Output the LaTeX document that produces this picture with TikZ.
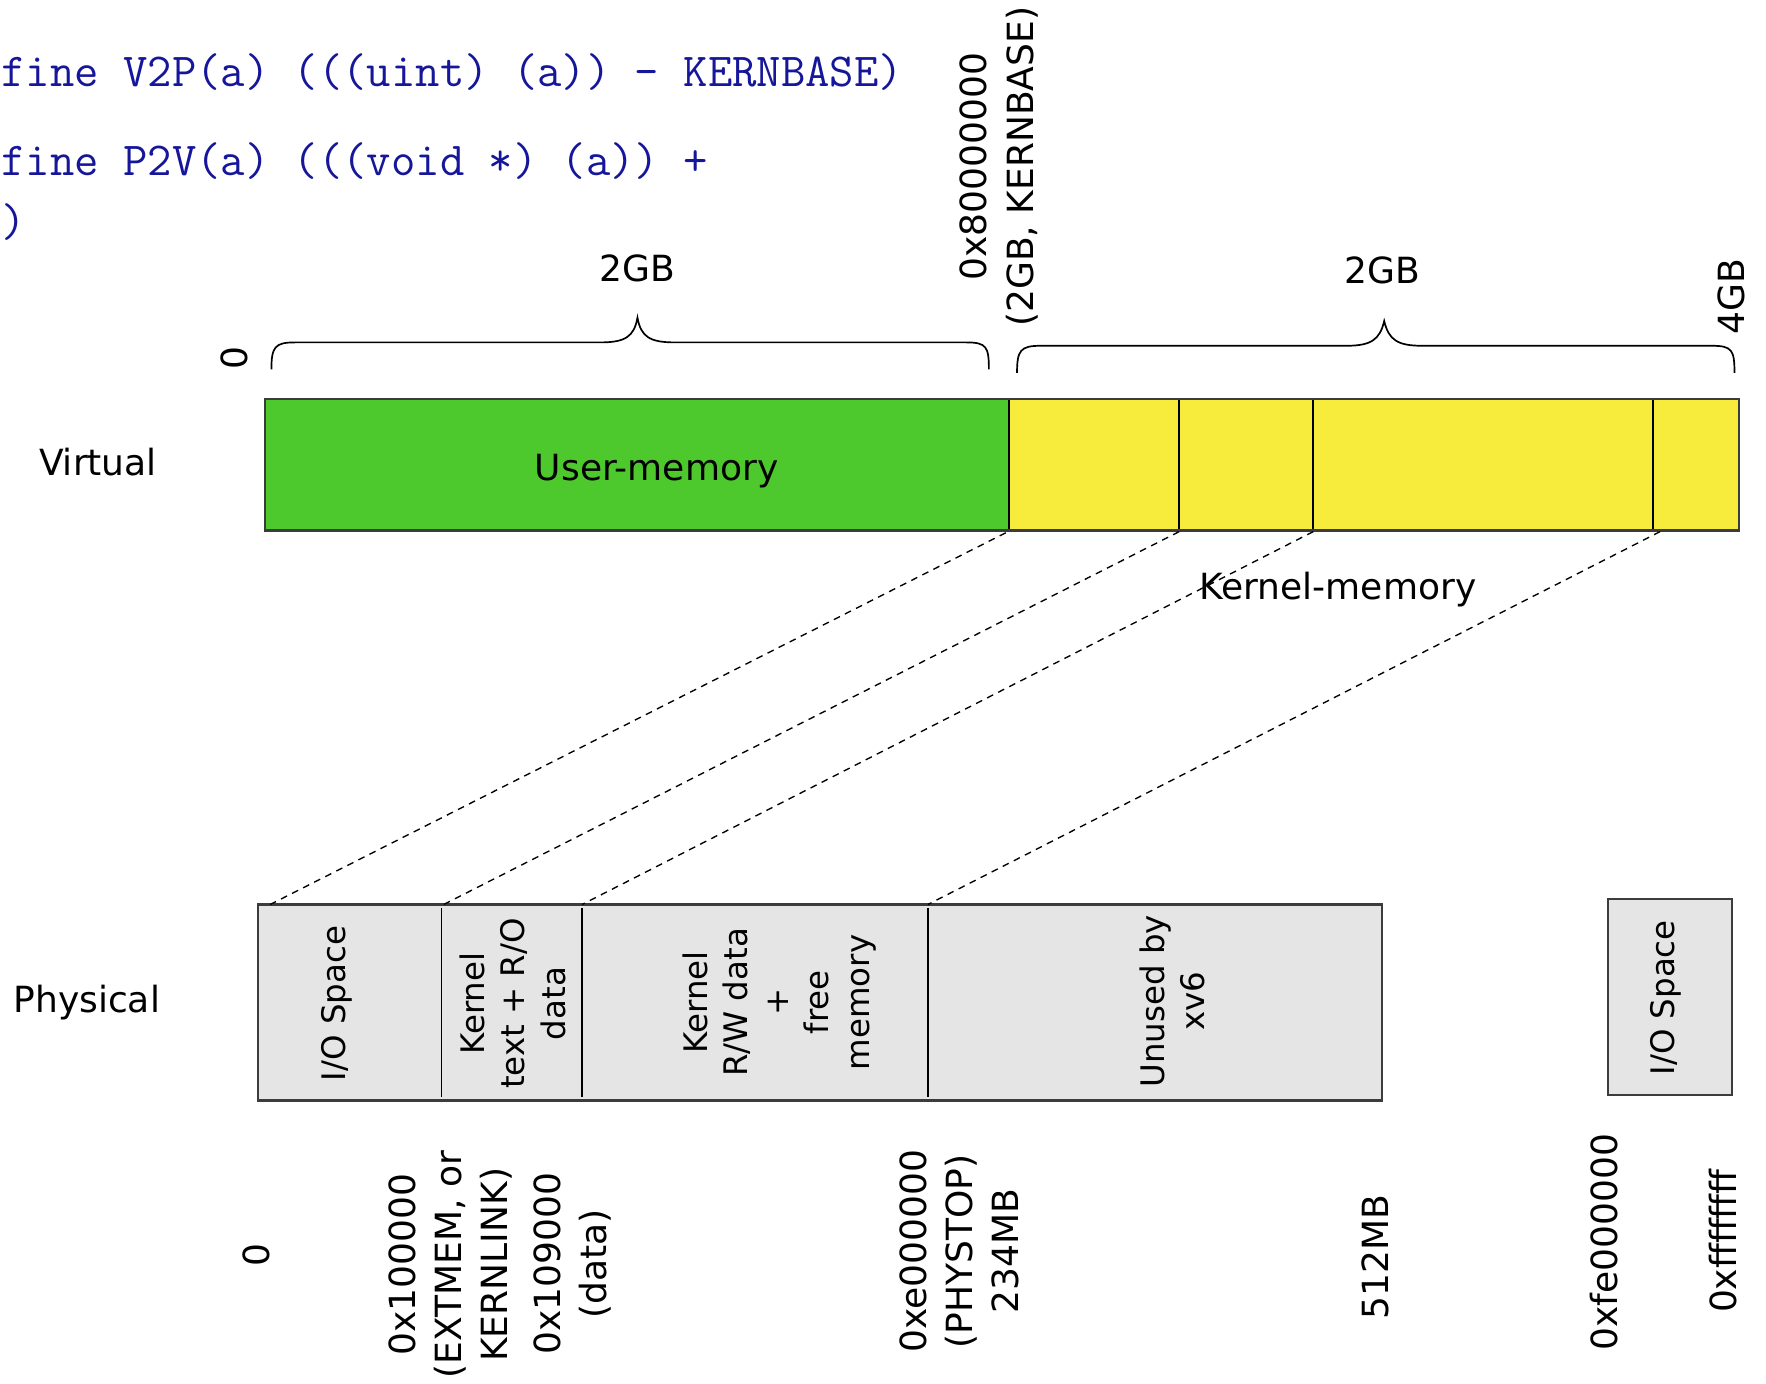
\documentclass[tikz,border=0pt]{standalone}
\usepackage{fontspec}
\setmainfont{DejaVu Sans}
\definecolor{codeblue}{RGB}{22,22,155}
\definecolor{usergreen}{RGB}{77,201,45}
\definecolor{kernyellow}{RGB}{247,235,59}
\definecolor{physgray}{RGB}{229,229,229}
\definecolor{edgegray}{RGB}{60,60,60}
\tikzset{
  lbl/.style={inner sep=0pt, font=\fontsize{16}{20}\selectfont, align=center},
  boxlbl/.style={inner sep=0pt, font=\fontsize{14.4}{18}\selectfont, align=center, rotate=90},
  vlbl/.style={inner sep=0pt, font=\fontsize{16}{20.5}\selectfont, align=center, rotate=90},
  code/.style={inner sep=0pt, anchor=base west, text=codeblue, font=\ttfamily\fontsize{21}{25}\selectfont},
  outline/.style={draw=edgegray, line width=1pt},
  divider/.style={draw=black, line width=0.85pt},
  mapline/.style={draw=black, line width=0.6pt, dash pattern=on 3pt off 2.5pt},
  bracepath/.style={draw=black, line width=0.75pt}
}
\begin{document}
\begin{tikzpicture}[x=0.5pt,y=-0.5pt]
\useasboundingbox (0,0) rectangle (1568,1228);

% code
\node[code] (c1) at (1,77) {fine V2P(a) (((uint) (a)) - KERNBASE)};
\node[code] (c2) at (1,156) {fine P2V(a) (((void *) (a)) +};
\node[code] (c3) at (1,210) {)};

% row labels
\node[lbl] (virtual) at (87,410) {Virtual};
\node[lbl] (physical) at (77,890) {Physical};

% virtual bar
\fill[usergreen] (235,354) rectangle (896,471);
\fill[kernyellow] (896,354) rectangle (1544,471);
\draw[outline] (235,354) rectangle (1544,471);
\draw[divider] (896,355) -- (896,470);
\draw[divider] (1047,355) -- (1047,470);
\draw[divider] (1166,355) -- (1166,470);
\draw[divider] (1468,355) -- (1468,470);
\node[lbl] (usermem) at (583,418) {User-memory};
\node[lbl] (kernmem) at (1188,523) {Kernel-memory};

% braces
\draw[bracepath] (241,328) .. controls (241,308) and (244,304) .. (262,304)
  -- (533,304) .. controls (555,304) and (563,299) .. (566,282)
  .. controls (569,299) and (577,304) .. (599,304)
  -- (858,304) .. controls (876,304) and (878,308) .. (878,328);
\draw[bracepath] (903,331) .. controls (903,311) and (906,307) .. (924,307)
  -- (1195,307) .. controls (1217,307) and (1225,302) .. (1229,285)
  .. controls (1233,302) and (1241,307) .. (1263,307)
  -- (1520,307) .. controls (1538,307) and (1540,311) .. (1540,331);

% virtual address labels
\node[lbl] (twogbL) at (566,238) {2GB};
\node[lbl] (twogbR) at (1227,240) {2GB};
\node[vlbl] (zeroV) at (208,318) {0};
\node[vlbl] (kernbase) at (887,148) {0x80000000\\(2GB, KERNBASE)};
\node[vlbl] (fourgb) at (1537,263) {4GB};

% physical bar
\fill[physgray] (229,803) rectangle (1227,977);
\draw[outline] (229,803) rectangle (1227,977);
\draw[divider] (392,806) -- (392,974);
\draw[divider] (517,806) -- (517,974);
\draw[divider] (824,806) -- (824,974);
\fill[physgray] (1428,798) rectangle (1538,972);
\draw[outline] (1428,798) rectangle (1538,972);

\node[boxlbl] (io1) at (299,891) {I/O Space};
\node[boxlbl] (ktext) at (455,891) {Kernel\\text + R/O\\data};
\node[boxlbl] (krw) at (692,890) {Kernel\\R/W data\\+\\free\\memory};
\node[boxlbl] (unused) at (1041,889) {Unused by\\xv6};
\node[boxlbl] (io2) at (1479,886) {I/O Space};

% physical address labels
\node[vlbl] (pz) at (228,1114) {0};
\node[vlbl] (pext) at (400,1123) {0x100000\\(EXTMEM, or\\KERNLINK)};
\node[vlbl] (pdata) at (508,1122) {0x109000\\(data)};
\node[vlbl] (pphys) at (852,1111) {0xe000000\\(PHYSTOP)\\234MB};
\node[vlbl] (p512) at (1221,1116) {512MB};
\node[vlbl] (pfe) at (1424,1103) {0xfe000000};
\node[vlbl] (pff) at (1530,1102) {0xffffffff};

% mapping lines
\coordinate (v0) at (893,473);
\coordinate (v1) at (1047,472);
\coordinate (v2) at (1166,472);
\coordinate (v3) at (1474,472);
\coordinate (q0) at (240,803);
\coordinate (q1) at (394,803);
\coordinate (q2) at (517,803);
\coordinate (q3) at (824,803);
\draw[mapline] (v0) -- (q0);
\draw[mapline] (v1) -- (q1);
\draw[mapline] (v2) -- (q2);
\draw[mapline] (v3) -- (q3);
\end{tikzpicture}
\end{document}
